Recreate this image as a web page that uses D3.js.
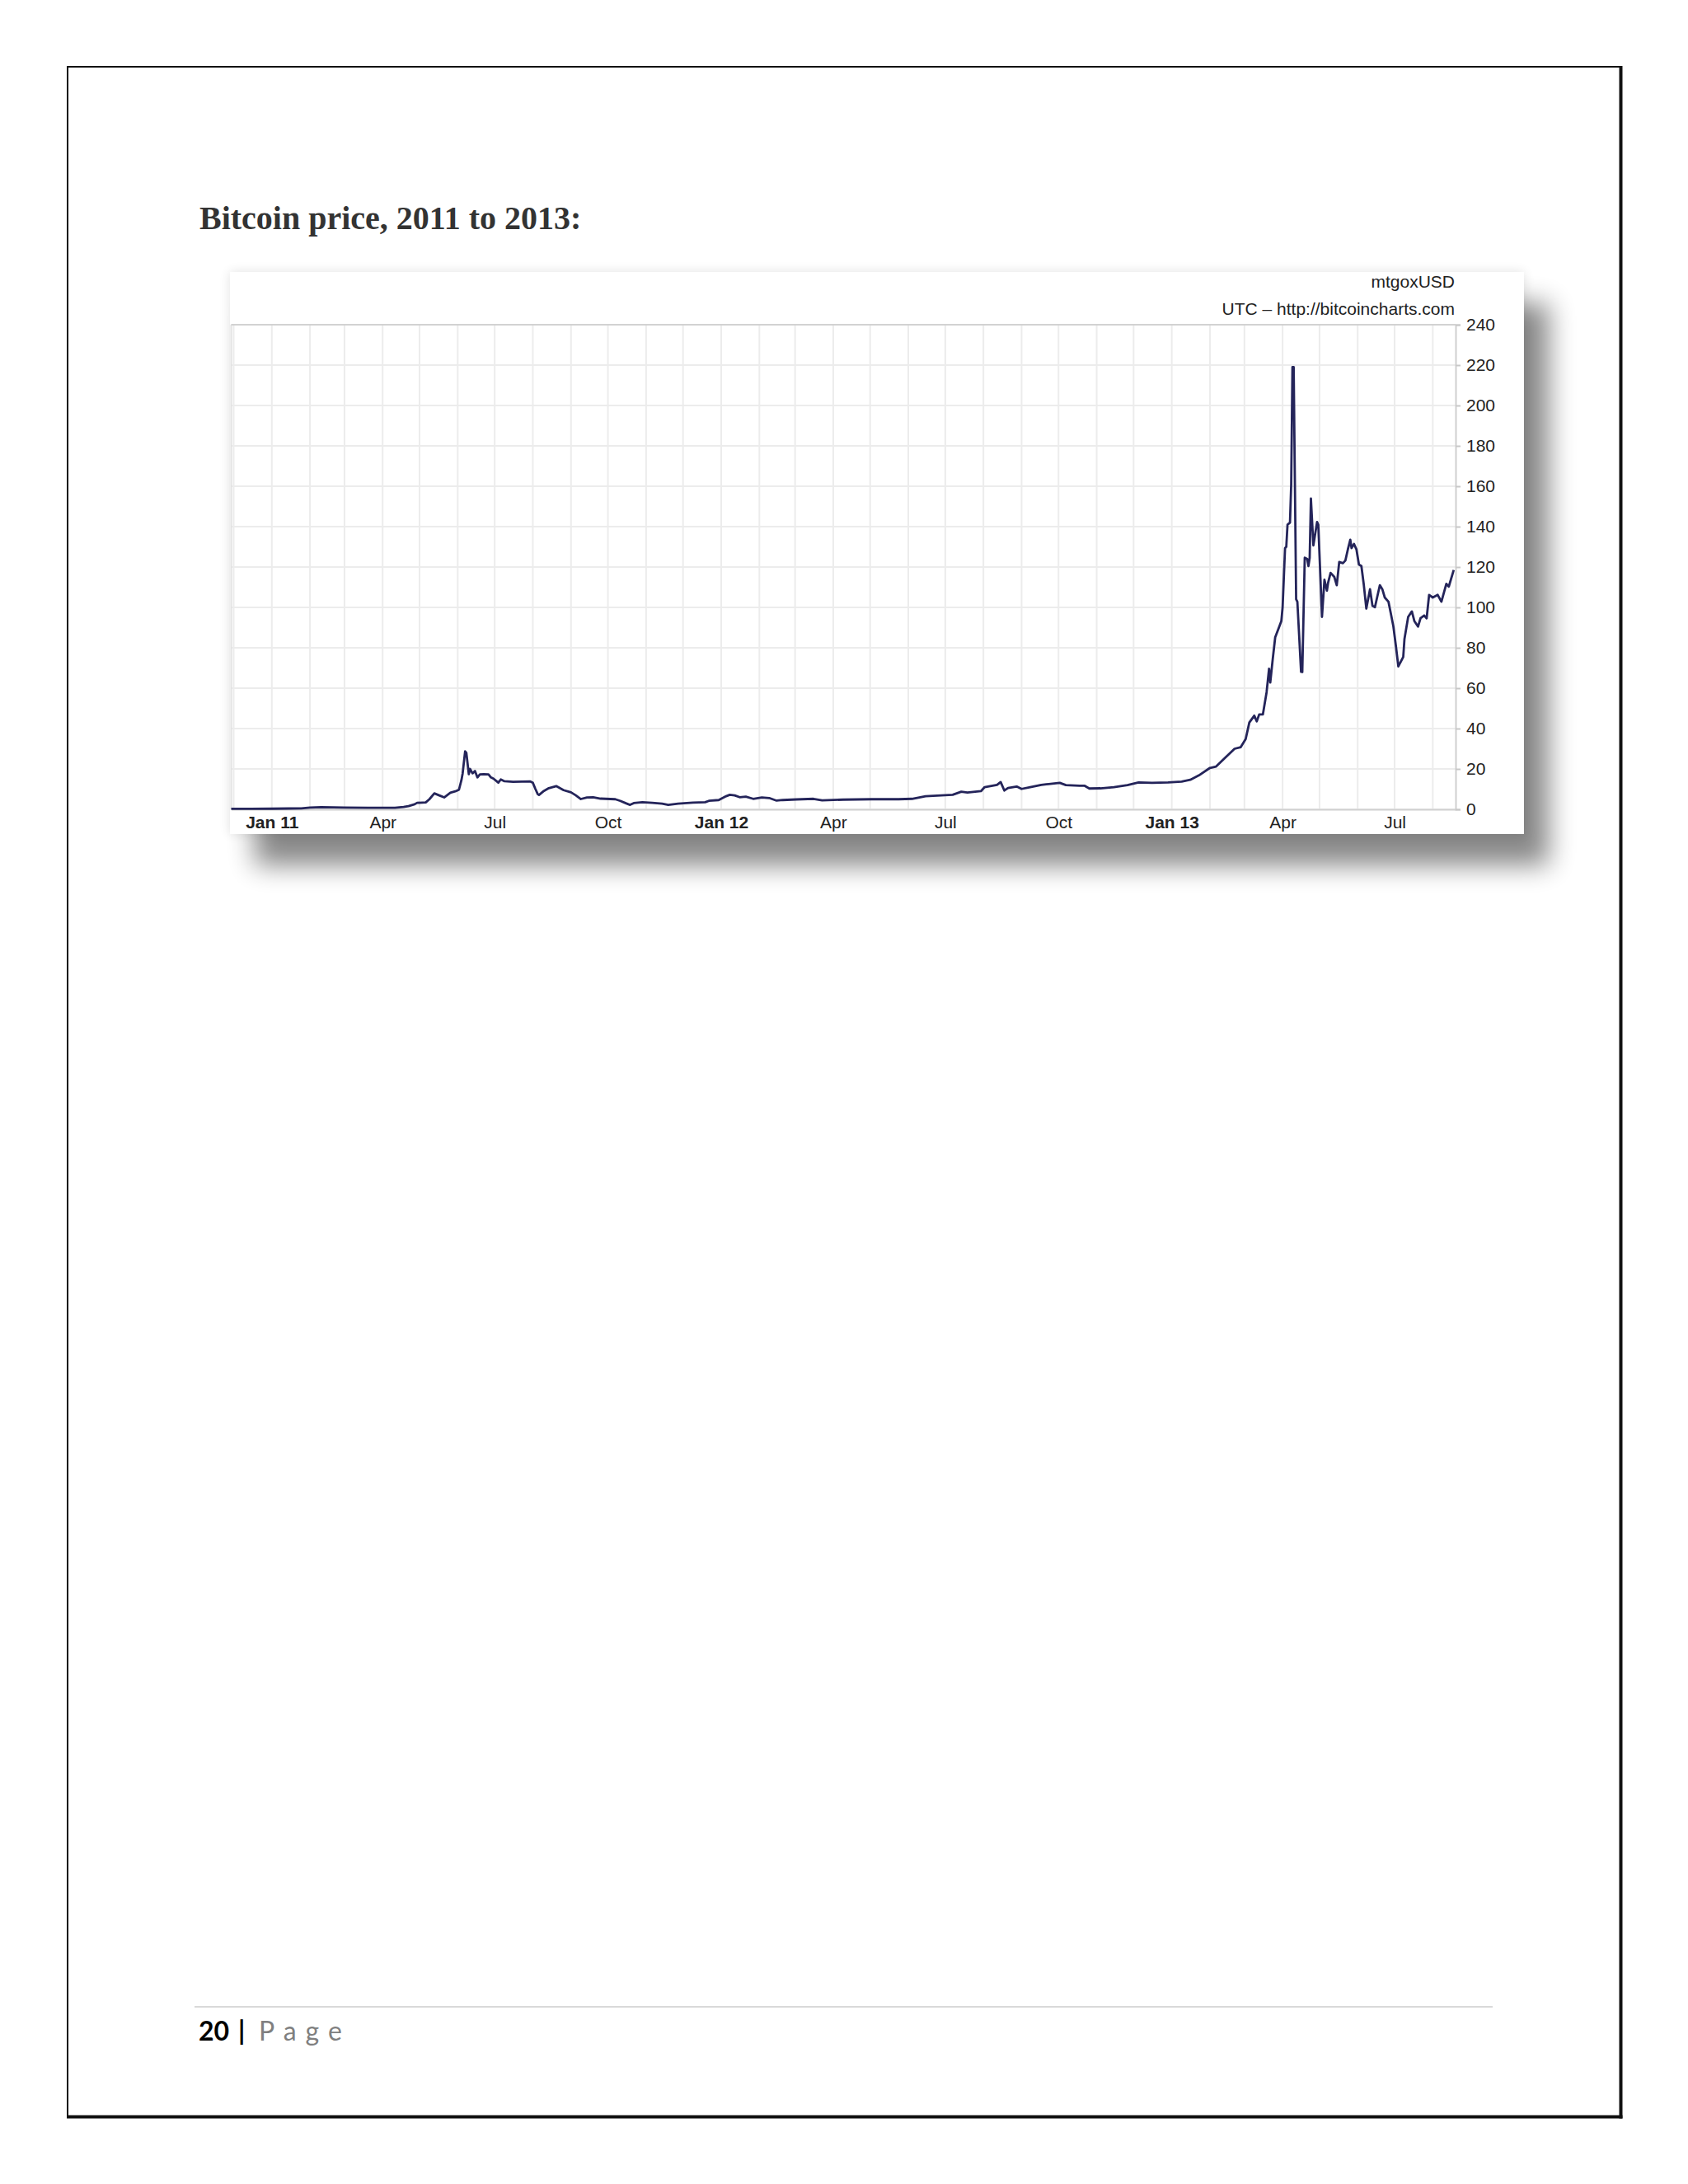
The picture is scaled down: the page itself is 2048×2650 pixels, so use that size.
<!DOCTYPE html>
<html>
<head>
<meta charset="utf-8">
<script src="https://cdn.jsdelivr.net/npm/d3@7"></script>
<style>
  html, body { margin: 0; padding: 0; background: #ffffff; }
  svg { display: block; }
</style>
</head>
<body>
<svg id="page" width="2048" height="2650"></svg>
<script>
// ---------------- DATA ----------------
const titleText = "Bitcoin price, 2011 to 2013:";
const sourceLine1 = "mtgoxUSD";
const sourceLine2 = "UTC \u2013 http://bitcoincharts.com";

const yTicks = [0, 20, 40, 60, 80, 100, 120, 140, 160, 180, 200, 220, 240];

const xTickDates = ["2011-01-01", "2011-04-01", "2011-07-01", "2011-10-01",
                    "2012-01-01", "2012-04-01", "2012-07-01", "2012-10-01",
                    "2013-01-01", "2013-04-01", "2013-07-01"];
const xTickLabels = ["Jan 11", "Apr", "Jul", "Oct", "Jan 12", "Apr", "Jul", "Oct", "Jan 13", "Apr", "Jul"];

const priceDates = [
  "2010-11-29","2010-12-15","2011-01-01","2011-01-15","2011-01-25","2011-02-01","2011-02-10","2011-02-20",
  "2011-03-01","2011-03-20","2011-04-05","2011-04-11","2011-04-18","2011-04-22","2011-04-27","2011-04-29",
  "2011-05-06","2011-05-09","2011-05-13","2011-05-17","2011-05-21","2011-05-26","2011-05-30","2011-06-02",
  "2011-06-04","2011-06-05","2011-06-07","2011-06-08","2011-06-10","2011-06-11","2011-06-13","2011-06-15",
  "2011-06-17","2011-06-19","2011-06-22","2011-06-26","2011-06-28","2011-06-30","2011-07-04","2011-07-06",
  "2011-07-09","2011-07-16","2011-07-23","2011-07-30","2011-08-01","2011-08-03","2011-08-05","2011-08-06",
  "2011-08-10","2011-08-14","2011-08-20","2011-08-23","2011-08-26","2011-09-01","2011-09-05","2011-09-09",
  "2011-09-14","2011-09-19","2011-09-25","2011-10-07","2011-10-11","2011-10-16","2011-10-19","2011-10-22",
  "2011-10-29","2011-11-06","2011-11-14","2011-11-19","2011-11-27","2011-12-09","2011-12-19","2011-12-22",
  "2011-12-30","2012-01-05","2012-01-08","2012-01-12","2012-01-16","2012-01-21","2012-01-27","2012-02-03",
  "2012-02-09","2012-02-15","2012-02-20","2012-03-02","2012-03-16","2012-03-23","2012-04-09","2012-05-02",
  "2012-05-24","2012-06-04","2012-06-15","2012-07-07","2012-07-14","2012-07-19","2012-07-30","2012-08-02",
  "2012-08-12","2012-08-15","2012-08-18","2012-08-21","2012-08-28","2012-09-01","2012-09-08","2012-09-17",
  "2012-09-21","2012-10-02","2012-10-07","2012-10-18","2012-10-22","2012-10-26","2012-11-04","2012-11-15",
  "2012-11-26","2012-12-05","2012-12-16","2012-12-29","2013-01-09","2013-01-16","2013-01-23","2013-02-01",
  "2013-02-06","2013-02-14","2013-02-21","2013-02-26","2013-03-02","2013-03-05","2013-03-09","2013-03-11",
  "2013-03-13","2013-03-16","2013-03-19","2013-03-21","2013-03-22","2013-03-24","2013-03-26","2013-03-29",
  "2013-03-31","2013-04-01","2013-04-03","2013-04-04","2013-04-05","2013-04-07","2013-04-08","2013-04-09",
  "2013-04-10","2013-04-12","2013-04-13","2013-04-16","2013-04-17","2013-04-19","2013-04-21","2013-04-22",
  "2013-04-23","2013-04-24","2013-04-26","2013-04-29","2013-04-30","2013-05-03","2013-05-05","2013-05-07",
  "2013-05-08","2013-05-10","2013-05-13","2013-05-15","2013-05-17","2013-05-20","2013-05-22","2013-05-24",
  "2013-05-26","2013-05-27","2013-05-29","2013-05-31","2013-06-02","2013-06-04","2013-06-06","2013-06-08",
  "2013-06-11","2013-06-13","2013-06-15","2013-06-19","2013-06-21","2013-06-23","2013-06-26","2013-06-28",
  "2013-06-30","2013-07-02","2013-07-04","2013-07-08","2013-07-09","2013-07-12","2013-07-15","2013-07-17",
  "2013-07-20","2013-07-22","2013-07-25","2013-07-27","2013-07-29","2013-08-01","2013-08-05","2013-08-08",
  "2013-08-12","2013-08-14","2013-08-18"
];
const priceValues = [
  0.23, 0.24, 0.30, 0.40, 0.45, 0.90, 1.05, 0.95,
  0.90, 0.80, 0.75, 0.80, 1.2, 1.6, 2.5, 3.2,
  3.4, 5.0, 7.9, 6.9, 5.9, 8.2, 8.9, 9.7,
  14.4, 17.8, 28.7, 28.0, 17.4, 20.0, 17.8, 19.0,
  15.8, 17.3, 17.4, 17.3, 15.8, 15.2, 13.2, 14.8,
  13.9, 13.6, 13.7, 13.8, 13.2, 10.2, 7.5, 7.1,
  9.1, 10.5, 11.5, 10.5, 9.5, 8.4, 6.9, 5.1,
  5.9, 6.0, 5.3, 5.0, 4.2, 2.9, 2.2, 3.1,
  3.5, 3.2, 2.8, 2.2, 2.8, 3.3, 3.5, 4.2,
  4.6, 6.5, 7.2, 6.9, 6.0, 6.3, 5.2, 5.9,
  5.6, 4.3, 4.6, 4.9, 5.2, 4.4, 4.8, 5.0,
  5.0, 5.2, 6.5, 7.2, 8.7, 8.3, 9.0, 11.0,
  12.1, 13.5, 9.3, 10.6, 11.3, 10.1, 11.0, 12.1,
  12.4, 13.1, 12.0, 11.7, 11.7, 10.3, 10.4, 11.0,
  12.0, 13.3, 13.1, 13.3, 13.7, 14.6, 16.8, 20.5,
  21.2, 25.9, 30.0, 30.8, 34.8, 43.0, 46.4, 43.6,
  47.0, 47.0, 58.0, 69.6, 62.8, 74.4, 85.2, 90.0,
  93.3, 100.0, 129.4, 130.0, 141.0, 142.0, 161.0, 219.0,
  219.0, 104.0, 102.8, 68.1, 68.0, 124.6, 124.0, 120.5,
  124.6, 153.9, 130.7, 142.3, 140.9, 95.3, 113.7, 108.3,
  112.3, 117.1, 115.1, 111.0, 122.5, 121.9, 123.2, 128.7,
  133.5, 129.4, 131.4, 128.7, 121.2, 120.5, 111.0, 99.4,
  109.0, 100.8, 100.1, 111.0, 109.0, 104.9, 102.8, 96.7,
  90.5, 81.0, 70.8, 75.5, 84.4, 95.3, 98.0, 93.3,
  90.5, 94.6, 96.0, 94.6, 106.2, 104.9, 106.2, 102.8,
  111.7, 110.3, 118.5
];

// ---------------- DRAWING ----------------
const parse = d3.utcParse("%Y-%m-%d");
const series = priceDates.map((d, i) => ({ date: parse(d), value: priceValues[i] }));

const svg = d3.select("#page");

// page frame
const frame = svg.append("g");
frame.append("line").attr("x1", 82).attr("y1", 80).attr("x2", 82).attr("y2", 2570).attr("stroke", "#111").attr("stroke-width", 2);
frame.append("line").attr("x1", 81).attr("y1", 81).attr("x2", 1968).attr("y2", 81).attr("stroke", "#111").attr("stroke-width", 2);
frame.append("line").attr("x1", 1966.5).attr("y1", 80).attr("x2", 1966.5).attr("y2", 2570.5).attr("stroke", "#111").attr("stroke-width", 4);
frame.append("line").attr("x1", 81).attr("y1", 2568.5).attr("x2", 1968.5).attr("y2", 2568.5).attr("stroke", "#111").attr("stroke-width", 4);

// title
svg.append("text")
  .attr("x", 242).attr("y", 278)
  .attr("font-family", "'Liberation Serif', 'Times New Roman', serif")
  .attr("font-weight", "bold").attr("font-size", 40)
  .attr("fill", "#333")
  .text(titleText);

// shadow filter: a big offset drop shadow plus a faint glow all round
const defs = svg.append("defs");
const f = defs.append("filter").attr("id", "shadow")
  .attr("x", "-5%").attr("y", "-15%").attr("width", "118%").attr("height", "150%");
f.append("feGaussianBlur").attr("in", "SourceAlpha").attr("stdDeviation", 16).attr("result", "blur");
f.append("feOffset").attr("in", "blur").attr("dx", 30).attr("dy", 38).attr("result", "off");
f.append("feComponentTransfer").attr("in", "off").attr("result", "sh")
  .append("feFuncA").attr("type", "linear").attr("slope", 0.47);
f.append("feGaussianBlur").attr("in", "SourceAlpha").attr("stdDeviation", 7).attr("result", "blur2");
f.append("feComponentTransfer").attr("in", "blur2").attr("result", "glow")
  .append("feFuncA").attr("type", "linear").attr("slope", 0.12);
const m = f.append("feMerge");
m.append("feMergeNode").attr("in", "glow");
m.append("feMergeNode").attr("in", "sh");
m.append("feMergeNode").attr("in", "SourceGraphic");

// chart box
svg.append("rect")
  .attr("x", 279).attr("y", 330).attr("width", 1570).attr("height", 682)
  .attr("fill", "#fff").attr("filter", "url(#shadow)");

// scales
const x = d3.scaleUtc()
  .domain([new Date(Date.UTC(2010, 10, 29)), new Date(Date.UTC(2013, 7, 19, 12))])
  .range([280.5, 1766]);
const y = d3.scaleLinear().domain([0, 240]).range([982, 394]);

const chart = svg.append("g");

// vertical monthly grid
const months = d3.utcMonth.range(x.domain()[0], x.domain()[1]);
chart.append("g").selectAll("line").data(months).join("line")
  .attr("x1", d => x(d)).attr("x2", d => x(d))
  .attr("y1", y(240)).attr("y2", y(0))
  .attr("stroke", "#ececec").attr("stroke-width", 2);

// horizontal grid
chart.append("g").selectAll("line").data(yTicks).join("line")
  .attr("x1", x.range()[0]).attr("x2", x.range()[1])
  .attr("y1", d => y(d)).attr("y2", d => y(d))
  .attr("stroke", "#ececec").attr("stroke-width", 2);

// left edge & top border
chart.append("line").attr("x1", x.range()[0]).attr("x2", x.range()[0]).attr("y1", y(240)).attr("y2", y(0))
  .attr("stroke", "#e2e2e2").attr("stroke-width", 2);
chart.append("line").attr("x1", x.range()[0]).attr("x2", x.range()[1]).attr("y1", y(240)).attr("y2", y(240))
  .attr("stroke", "#d2d2d2").attr("stroke-width", 2);

// x axis
const xAxis = d3.axisBottom(x)
  .tickValues(xTickDates.map(parse))
  .tickSize(0).tickPadding(8)
  .tickFormat((d, i) => xTickLabels[i]);
const gx = chart.append("g").attr("transform", `translate(0,${y(0)})`).call(xAxis);
gx.select(".domain").attr("stroke", "#d0d0d0").attr("stroke-width", 2);
gx.selectAll("text")
  .attr("font-family", "'Liberation Sans', Arial, sans-serif")
  .attr("font-size", 21).attr("fill", "#222")
  .attr("font-weight", (d, i) => xTickLabels[i].startsWith("Jan") ? "bold" : "normal");

// y axis on the right
const yAxis = d3.axisRight(y).tickValues(yTicks).tickSize(6).tickPadding(7).tickFormat(d3.format("d"));
const gy = chart.append("g").attr("transform", `translate(${x.range()[1]},0)`).call(yAxis);
gy.select(".domain").attr("stroke", "#d0d0d0").attr("stroke-width", 2);
gy.selectAll(".tick line").attr("stroke", "#c8c8c8").attr("stroke-width", 2);
gy.selectAll("text")
  .attr("font-family", "'Liberation Sans', Arial, sans-serif")
  .attr("font-size", 21).attr("fill", "#222");

// source text
chart.append("text").attr("x", 1765).attr("y", 349).attr("text-anchor", "end")
  .attr("font-family", "'Liberation Sans', Arial, sans-serif").attr("font-size", 21).attr("fill", "#222")
  .text(sourceLine1);
chart.append("text").attr("x", 1765).attr("y", 382).attr("text-anchor", "end")
  .attr("font-family", "'Liberation Sans', Arial, sans-serif").attr("font-size", 21).attr("fill", "#222")
  .text(sourceLine2);

// price line
const line = d3.line().x(d => x(d.date)).y(d => y(d.value));
chart.append("path").datum(series)
  .attr("d", line)
  .attr("fill", "none")
  .attr("stroke", "#24245a")
  .attr("stroke-width", 2.8)
  .attr("stroke-linejoin", "round");

// footer
svg.append("line").attr("x1", 236).attr("x2", 1811).attr("y1", 2435).attr("y2", 2435)
  .attr("stroke", "#d9d9d9").attr("stroke-width", 2);
svg.append("text").attr("x", 241).attr("y", 2476)
  .attr("font-family", "Lato, 'Open Sans', sans-serif").attr("font-weight", "bold").attr("font-size", 32)
  .attr("fill", "#000").text("20");
svg.append("text").attr("x", 289).attr("y", 2476)
  .attr("font-family", "Lato, 'Open Sans', sans-serif").attr("font-weight", "bold").attr("font-size", 32)
  .attr("fill", "#000").text("|");
svg.append("text").attr("x", 314).attr("y", 2476)
  .attr("font-family", "Lato, 'Open Sans', sans-serif").attr("font-size", 32)
  .attr("letter-spacing", 11)
  .attr("fill", "#7f7f7f").text("Page");
</script>
</body>
</html>
